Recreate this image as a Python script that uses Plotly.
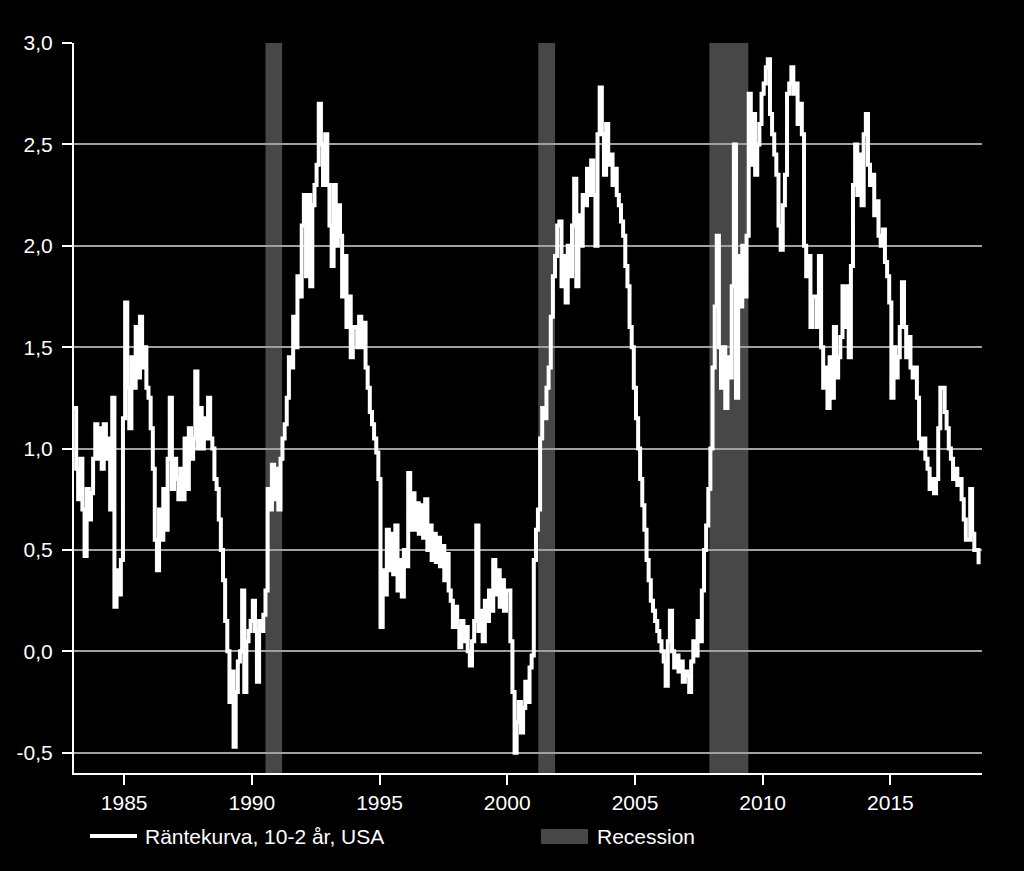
import pandas as pd
import plotly.graph_objects as go

# Monthly values of the US 10-2 year yield spread, Jan 1983 ..
spread = [
    # 1983
    1.2, 0.9, 0.75, 0.95, 0.7, 0.47, 0.8, 0.65, 0.78, 0.95, 1.12, 0.95,
    # 1984
    1.1, 0.9, 1.12, 0.95, 1.05, 0.7, 1.25, 0.22, 0.4, 0.28, 0.45, 1.15,
    # 1985
    1.72, 1.3, 1.1, 1.45, 1.3, 1.6, 1.35, 1.65, 1.4, 1.5, 1.3, 1.25,
    # 1986
    1.1, 0.9, 0.55, 0.4, 0.7, 0.55, 0.8, 0.6, 0.95, 1.25, 0.8, 0.95,
    # 1987
    0.85, 0.75, 0.9, 0.75, 1.05, 0.8, 1.1, 0.95, 1.05, 1.38, 1.0, 1.2,
    # 1988
    1.0, 1.15, 1.05, 1.25, 1.05, 1.0, 0.85, 0.8, 0.65, 0.5, 0.35, 0.15,
    # 1989
    0.0, -0.25, -0.1, -0.47, -0.2, -0.05, 0.0, 0.3, -0.2, 0.05, 0.1, 0.15,
    # 1990
    0.25, 0.1, -0.15, 0.15, 0.1, 0.18, 0.3, 0.8, 0.7, 0.92, 0.75, 0.9,
    # 1991
    0.7, 0.95, 1.05, 1.12, 1.25, 1.45, 1.4, 1.65, 1.5, 1.85, 1.75, 2.1,
    # 1992
    2.25, 1.85, 2.25, 1.8, 2.2, 2.3, 2.4, 2.7, 2.5, 2.3, 2.55, 2.3,
    # 1993
    2.1, 1.9, 2.3, 2.0, 2.2, 2.05, 1.75, 1.95, 1.6, 1.75, 1.45, 1.6,
    # 1994
    1.6, 1.5, 1.65, 1.5, 1.62, 1.4, 1.3, 1.18, 1.12, 1.05, 0.98, 0.85,
    # 1995
    0.12, 0.4, 0.28, 0.6, 0.4, 0.58, 0.38, 0.62, 0.3, 0.45, 0.27, 0.5,
    # 1996
    0.42, 0.88, 0.6, 0.78, 0.6, 0.73, 0.58, 0.72, 0.56, 0.75, 0.5, 0.62,
    # 1997
    0.45, 0.58, 0.44, 0.56, 0.42, 0.52, 0.35, 0.48, 0.3, 0.25, 0.12, 0.22,
    # 1998
    0.12, 0.02, 0.15, 0.05, 0.12, 0.0, -0.07, 0.05, 0.15, 0.62, 0.1, 0.2,
    # 1999
    0.05, 0.25, 0.15, 0.3, 0.2, 0.45, 0.28, 0.4, 0.22, 0.35, 0.2, 0.3,
    # 2000
    0.3, 0.05, -0.2, -0.5, -0.35, -0.25, -0.4, -0.28, -0.15, -0.25, -0.08, -0.02,
    # 2001
    0.45, 0.6, 0.7, 1.05, 1.2, 1.15, 1.3, 1.4, 1.65, 1.85, 1.95, 2.1,
    # 2002
    2.12, 1.8, 1.95, 1.72, 2.0, 1.85, 2.1, 2.33, 1.8, 2.15, 2.0, 2.25,
    # 2003
    2.2, 2.38, 2.25, 2.42, 2.25, 2.0, 2.55, 2.78, 2.55, 2.35, 2.6, 2.4,
    # 2004
    2.45, 2.3, 2.38, 2.25, 2.2, 2.12, 2.05, 1.9, 1.8, 1.6, 1.5, 1.3,
    # 2005
    1.15, 1.0, 0.85, 0.72, 0.6, 0.45, 0.35, 0.25, 0.2, 0.15, 0.1, 0.05,
    # 2006
    0.0, -0.05, -0.17, 0.05, 0.2, 0.0, -0.08, -0.02, -0.1, -0.05, -0.15, -0.1,
    # 2007
    -0.12, -0.2, -0.05, 0.05, -0.02, 0.15, 0.05, 0.3, 0.5, 0.62, 0.8, 1.0,
    # 2008
    1.4, 1.7, 2.05, 1.5, 1.3, 1.5, 1.2, 1.45, 1.35, 1.8, 2.5, 1.25,
    # 2009
    1.95, 1.7, 2.0, 1.75, 2.05, 2.75, 2.4, 2.65, 2.35, 2.5, 2.6, 2.75,
    # 2010
    2.8, 2.88, 2.92, 2.65, 2.55, 2.45, 2.35, 2.1, 1.98, 2.2, 2.35, 2.75,
    # 2011
    2.8, 2.88, 2.75, 2.8, 2.6, 2.7, 2.55, 2.0, 1.85, 1.95, 1.6, 1.75,
    # 2012
    1.75, 1.6, 1.95, 1.5, 1.3, 1.4, 1.2, 1.45, 1.25, 1.6, 1.35, 1.45,
    # 2013
    1.55, 1.8, 1.6, 1.8, 1.45, 1.9, 2.3, 2.5, 2.25, 2.45, 2.2, 2.55,
    # 2014
    2.65, 2.4, 2.3, 2.35, 2.15, 2.22, 2.05, 2.0, 2.08, 1.92, 1.85, 1.72,
    # 2015
    1.25, 1.5, 1.35, 1.45, 1.6, 1.82, 1.6, 1.45, 1.55, 1.4, 1.35, 1.4,
    # 2016
    1.25, 1.05, 1.0, 1.05, 0.95, 0.9, 0.8, 0.85, 0.78, 0.85, 1.1, 1.3,
    # 2017
    1.3, 1.18, 1.1, 1.0, 0.95, 0.85, 0.9, 0.82, 0.85, 0.75, 0.65, 0.55,
    # 2018
    0.55, 0.8, 0.58, 0.5, 0.5, 0.43,
]
start_month = "1983-01-01"

recession_start = ["1990-07-15", "2001-03-20", "2007-12-01"]
recession_end = ["1991-03-10", "2001-11-15", "2009-06-10"]

y_ticks = [-0.5, 0.0, 0.5, 1.0, 1.5, 2.0, 2.5, 3.0]
y_tick_labels = ["-0,5", "0,0", "0,5", "1,0", "1,5", "2,0", "2,5", "3,0"]
x_tick_years = [1985, 1990, 1995, 2000, 2005, 2010, 2015]

line_name = "Räntekurva, 10-2 år, USA"
rec_name = "Recession"

dates = pd.date_range(start_month, periods=len(spread), freq="MS") + pd.Timedelta(days=14)

FONT = "Liberation Sans, Arial, sans-serif"
BAND = "#474747"
W, H = 1024, 871
ML, MR, MT, MB = 74, 42, 43, 98
PW, PH = W - ML - MR, H - MT - MB


def px_x(px):
    return (px - ML) / PW


def px_y(py):
    return (H - MB - py) / PH


fig = go.Figure()
fig.add_trace(go.Scatter(
    x=dates, y=spread, mode="lines", name=line_name, showlegend=False,
    line=dict(color="white", width=4, shape="hv"),
))

for s, e in zip(recession_start, recession_end):
    fig.add_shape(
        type="rect", xref="x", yref="paper", x0=s, x1=e, y0=0, y1=1,
        fillcolor=BAND, line=dict(width=0), layer="below",
    )

# legend (drawn below the plot)
fig.add_shape(type="line", xref="paper", yref="paper",
              x0=px_x(90), x1=px_x(137), y0=px_y(836), y1=px_y(836),
              line=dict(color="white", width=4))
fig.add_shape(type="rect", xref="paper", yref="paper",
              x0=px_x(541), x1=px_x(588), y0=px_y(844), y1=px_y(829),
              fillcolor=BAND, line=dict(width=0))
fig.add_annotation(text=line_name, xref="paper", yref="paper",
                   x=px_x(143), y=px_y(836), xanchor="left", yanchor="middle",
                   showarrow=False, font=dict(size=21, color="white"))
fig.add_annotation(text=rec_name, xref="paper", yref="paper",
                   x=px_x(595), y=px_y(836), xanchor="left", yanchor="middle",
                   showarrow=False, font=dict(size=21, color="white"))

fig.update_layout(
    width=W, height=H,
    paper_bgcolor="black", plot_bgcolor="black",
    margin=dict(l=ML, r=MR, t=MT, b=MB),
    font=dict(family=FONT, size=21, color="white"),
    showlegend=False,
    xaxis=dict(
        type="date",
        range=["1983-01-15", "2018-08-03"],
        tickvals=[f"{y}-01-01" for y in x_tick_years],
        ticktext=[str(y) for y in x_tick_years],
        ticks="outside", ticklen=10, tickwidth=2, tickcolor="white",
        showline=True, linecolor="white", linewidth=2,
        showgrid=False, zeroline=False,
        tickfont=dict(size=21, color="white"),
    ),
    yaxis=dict(
        range=[-0.6, 3.0],
        tickvals=y_ticks, ticktext=y_tick_labels,
        ticks="outside", ticklen=10, tickwidth=2, tickcolor="white",
        ticklabelstandoff=5,
        showline=True, linecolor="white", linewidth=2,
        showgrid=True, gridcolor="#a0a0a0", gridwidth=1.5,
        zeroline=False,
        tickfont=dict(size=21, color="white"),
    ),
)

fig.write_html("out.html")
